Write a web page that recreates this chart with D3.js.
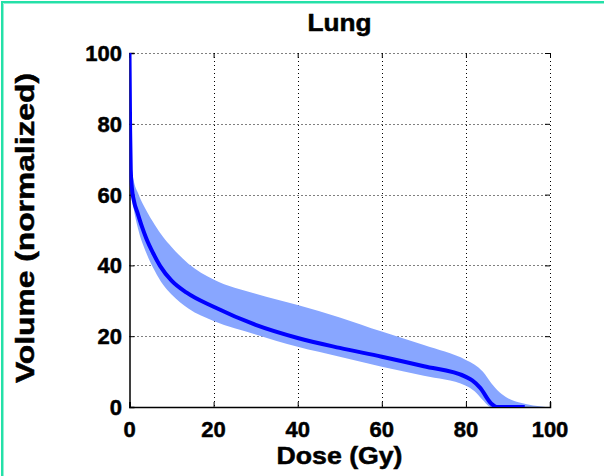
<!DOCTYPE html>
<html>
<head>
<meta charset="utf-8">
<script src="https://cdn.jsdelivr.net/npm/d3@7"></script>
<style>
  html, body { margin: 0; padding: 0; background: #fff; }
  svg { display: block; }
  text { font-family: "Liberation Sans", Arial, Helvetica, sans-serif; font-weight: bold; fill: #000; stroke: #000; stroke-width: 0.5px; }
</style>
</head>
<body>
<svg id="chart" width="604" height="476"></svg>
<script>
// Dose-volume histogram for the lung: median curve with a spread band.
const bandDose  = [0, 0.3, 0.6, 1, 2, 4, 6, 8, 10, 14, 20, 30, 40, 50, 60, 70, 80, 82, 84, 86, 88, 90, 93, 96, 99];
const bandUpper = [100, 78, 67, 64, 60.5, 55.5, 51.5, 48, 45.2, 40.5, 36, 32, 28.8, 25.3, 21.3, 17.5, 13.3, 12, 10, 6.8, 4.2, 2.5, 1.2, 0.4, 0];
const bandLower = [100, 66, 59, 56, 50.5, 43.5, 38.5, 34.5, 31.8, 27.8, 24.3, 20.5, 17, 14.2, 11.4, 8.8, 6, 4.5, 2, 0, 0, 0, 0, 0, 0];

const medianDose   = [0, 0.15, 0.3, 0.6, 1, 2, 3, 4, 5.6, 7.3, 10, 13.6, 20, 30, 40, 50, 60, 70, 80, 81.5, 83.4, 86, 87.3, 94];
const medianVolume = [100, 78, 67, 61.5, 58.5, 54.5, 50.8, 47.6, 43.5, 39.8, 35.7, 32.3, 28.3, 23.2, 19.5, 16.7, 14.2, 11.5, 8.5, 7.5, 5.4, 1, 0, 0];

const xTicks = [0, 20, 40, 60, 80, 100];
const yTicks = [0, 20, 40, 60, 80, 100];

const titleText = "Lung";
const xLabelText = "Dose (Gy)";
const yLabelText = "Volume (normalized)";

const svg = d3.select("#chart");
const plot = { left: 129.5, right: 550, top: 53, bottom: 407 };

const x = d3.scaleLinear().domain([0, 100]).range([plot.left, plot.right]);
const y = d3.scaleLinear().domain([0, 100]).range([plot.bottom, plot.top]);

// Frame lines along the top and left edges of the figure
svg.append("path")
  .attr("d", "M2,476 L2,2 L604,2")
  .attr("fill", "none").attr("stroke", "rgb(36,224,168)").attr("stroke-width", 2);
svg.append("path")
  .attr("d", "M3.5,476 L3.5,3.5 L604,3.5")
  .attr("fill", "none").attr("stroke", "rgb(150,240,212)").attr("stroke-width", 1);

svg.append("defs").append("clipPath").attr("id", "plotClip")
  .append("rect")
  .attr("x", plot.left).attr("y", plot.top - 2)
  .attr("width", plot.right - plot.left).attr("height", plot.bottom - plot.top + 2);

// Dotted grid
const grid = svg.append("g").attr("stroke", "#000").attr("stroke-width", 1).attr("stroke-dasharray", "1,3");
grid.selectAll("line.gx").data(xTicks.filter(d => d > 0)).join("line")
  .attr("x1", d => Math.round(x(d)) + 0.5).attr("x2", d => Math.round(x(d)) + 0.5)
  .attr("y1", plot.top).attr("y2", plot.bottom);
grid.selectAll("line.gy").data(yTicks.filter(d => d > 0)).join("line")
  .attr("y1", d => Math.round(y(d)) + 0.5).attr("y2", d => Math.round(y(d)) + 0.5)
  .attr("x1", plot.left).attr("x2", plot.right);

// Spread band
const bandData = bandDose.map((d, i) => ({ d, hi: bandUpper[i], lo: bandLower[i] }));
const area = d3.area()
  .x(p => x(p.d)).y0(p => y(p.lo)).y1(p => y(p.hi))
  .curve(d3.curveMonotoneX);
svg.append("path")
  .datum(bandData)
  .attr("clip-path", "url(#plotClip)")
  .attr("d", area)
  .attr("fill", "rgb(136,166,255)");

// Axes (left and bottom solid, ticks mirrored on top and right)
const tickLen = 5;
svg.append("g")
  .attr("transform", `translate(0,${plot.bottom})`)
  .call(d3.axisBottom(x).tickValues(xTicks).tickSize(-tickLen).tickFormat(""))
  .call(g => g.select(".domain").attr("stroke", "#000").attr("stroke-width", 1.5));
svg.append("g")
  .attr("transform", `translate(${plot.left},0)`)
  .call(d3.axisLeft(y).tickValues(yTicks).tickSize(-tickLen).tickFormat(""))
  .call(g => g.select(".domain").attr("stroke", "#000").attr("stroke-width", 1.5));
svg.append("g")
  .attr("transform", `translate(0,${plot.top})`)
  .call(d3.axisTop(x).tickValues(xTicks).tickSize(-tickLen).tickFormat(""))
  .call(g => g.select(".domain").remove());
svg.append("g")
  .attr("transform", `translate(${plot.right},0)`)
  .call(d3.axisRight(y).tickValues(yTicks).tickSize(-tickLen).tickFormat(""))
  .call(g => g.select(".domain").remove());

// Median curve
const medianData = medianDose.map((d, i) => ({ d, v: medianVolume[i] }));
const line = d3.line().x(p => x(p.d)).y(p => y(p.v)).curve(d3.curveMonotoneX);
svg.append("path")
  .datum(medianData)
  .attr("clip-path", "url(#plotClip)")
  .attr("d", line)
  .attr("fill", "none")
  .attr("stroke", "#0000ff")
  .attr("stroke-width", 4)
  .attr("stroke-linejoin", "round");

// Tick labels
svg.append("g").selectAll("text").data(xTicks).join("text")
  .attr("x", d => x(d)).attr("y", 437)
  .attr("text-anchor", "middle")
  .style("font-size", "22px")
  .text(d => d);
svg.append("g").selectAll("text").data(yTicks).join("text")
  .attr("x", 122).attr("y", d => y(d) + 8)
  .attr("text-anchor", "end")
  .style("font-size", "22px")
  .text(d => d);

// Title and axis labels
svg.append("text")
  .attr("x", 339.5).attr("y", 31)
  .attr("text-anchor", "middle")
  .attr("textLength", 64).attr("lengthAdjust", "spacingAndGlyphs")
  .style("font-size", "23px")
  .text(titleText);
svg.append("text")
  .attr("x", 339.5).attr("y", 464)
  .attr("text-anchor", "middle")
  .attr("textLength", 126).attr("lengthAdjust", "spacingAndGlyphs")
  .style("font-size", "24px")
  .text(xLabelText);
svg.append("text")
  .attr("transform", "translate(34,228) rotate(-90)")
  .attr("text-anchor", "middle")
  .attr("textLength", 310).attr("lengthAdjust", "spacingAndGlyphs")
  .style("font-size", "25px")
  .text(yLabelText);
</script>
</body>
</html>
